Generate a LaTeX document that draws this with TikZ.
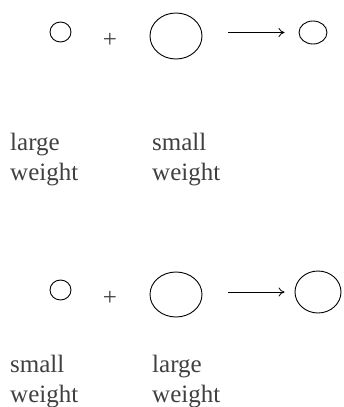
\documentclass[tikz,border=0pt]{standalone}
\usepackage{fontspec}
\setmainfont{Liberation Serif}
\usetikzlibrary{shapes.geometric}
\usetikzlibrary{arrows.meta}

\tikzset{
    blob/.style={ellipse, draw, line width=0.9pt, inner sep=0pt},
    word/.style={anchor=north west, align=left, inner sep=0pt, text=black!75,
        font=\fontsize{25}{30}\selectfont},
    sign/.style={inner sep=0pt, font=\fontsize{25}{30}\selectfont, text=black!75},
    react/.style={-{To[length=6pt,width=9pt]}, line width=0.8pt, shorten <=26pt, shorten >=14pt}
}

\begin{document}
\begin{tikzpicture}[x=1pt, y=-1pt]
            \useasboundingbox (0,0) rectangle (343,407);

            % first reaction
            \node (a1) at (60.5,32) [blob, minimum width=21pt, minimum height=20pt] {};
            \node (p1) at (110,40) [sign] {+};
            \node (b1) at (176,36) [blob, minimum width=52pt, minimum height=46pt] {};
            \node (c1) at (313,32.5) [blob, minimum width=28pt, minimum height=23pt] {};
            \draw[react] (b1.east |- c1) -- (c1);

            \node (l1) at (10,133) [word] {large\\weight};
            \node (s1) at (152,133) [word] {small\\weight};

            % second reaction
            \node (a2) at (60.5,290) [blob, minimum width=21pt, minimum height=20pt] {};
            \node (p2) at (110,298) [sign] {+};
            \node (b2) at (176,294.5) [blob, minimum width=52pt, minimum height=45pt] {};
            \node (c2) at (318,292) [blob, minimum width=46pt, minimum height=42pt] {};
            \draw[react, shorten >=10pt] (b2.east |- c2) -- (c2);

            \node (s2) at (10,355) [word] {small\\weight};
            \node (l2) at (152,355) [word] {large\\weight};
        \end{tikzpicture}
\end{document}
